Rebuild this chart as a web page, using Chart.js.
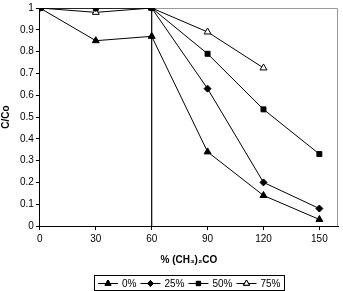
<!DOCTYPE html>
<html>
<head>
<meta charset="utf-8">
<script src="https://cdn.jsdelivr.net/npm/chart.js@4/dist/chart.umd.min.js"></script>
<style>
  html, body { margin: 0; padding: 0; background: #fff; }
  #wrap { width: 343px; height: 291px; }
</style>
</head>
<body>
<div id="wrap"><canvas id="chart" width="343" height="291"></canvas></div>
<script>
  // data
  const xValues = [0, 30, 60, 90, 120, 150];
  const xTicks = [0, 30, 60, 90, 120, 150];
  const s0 = [1, 0.85, 0.87, 0.34, 0.14, 0.03];
  const s25 = [1, 1, 1, 0.63, 0.20, 0.08];
  const s50 = [1, 1, 1, 0.79, 0.535, 0.33];
  const s75 = [1, 0.98, 1, 0.89, 0.725];
  const markerLine = [[60, 0], [60, 1]];

  const toPts = arr => arr.map((v, i) => ({ x: xValues[i], y: v }));

  const mk = (label, arr, style, fill, r) => ({
    label: label,
    data: toPts(arr),
    showLine: true,
    borderColor: '#000',
    borderWidth: 1,
    pointStyle: style,
    pointRadius: r,
    pointBackgroundColor: fill,
    pointBorderColor: '#000',
    pointBorderWidth: 1,
    inLegend: true
  });

  const datasets = [
    mk('0%', s0, 'triangle', '#000', 4),
    mk('25%', s25, 'rectRot', '#000', 3.5),
    mk('50%', s50, 'rect', '#000', 3.5),
    mk('75%', s75, 'triangle', '#fff', 4),
    {
      label: 'line',
      data: markerLine.map(p => ({ x: p[0], y: p[1] })),
      showLine: true,
      borderColor: '#000',
      borderWidth: 1.2,
      pointRadius: 0
    }
  ];

  // plot frame (top/right) and the boxed legend at the bottom
  const frame = {
    id: 'frame',
    beforeDatasetsDraw(chart) {
      const a = chart.chartArea, ctx = chart.ctx;
      ctx.save();
      ctx.strokeStyle = '#9a9a9a';
      ctx.lineWidth = 1;
      ctx.beginPath();
      ctx.moveTo(a.left, a.top + 0.5);
      ctx.lineTo(a.right - 0.5, a.top + 0.5);
      ctx.lineTo(a.right - 0.5, a.bottom);
      ctx.stroke();
      ctx.restore();
    },
    afterDraw(chart) {
      const ctx = chart.ctx, a = chart.chartArea;
      const items = chart.data.datasets.filter(d => d.inLegend);
      const sw = 20, gap = 4, pad = 4;
      ctx.save();
      ctx.font = '10px "Liberation Sans", Arial, sans-serif';
      const widths = items.map(d => sw + gap + ctx.measureText(d.label).width);
      const total = widths.reduce((s, w) => s + w, 0) + gap * (items.length - 1) + pad * 2;
      const cx = (a.left + a.right) / 2;
      const cy = 283;
      let x = Math.round(cx - total / 2);
      ctx.strokeStyle = '#000';
      ctx.lineWidth = 1;
      ctx.strokeRect(x + 0.5, cy - 7.5, Math.round(total), 15);
      x += pad;
      items.forEach((d, i) => {
        ctx.beginPath();
        ctx.moveTo(x, cy + 0.5); ctx.lineTo(x + sw, cy + 0.5);
        ctx.stroke();
        Chart.helpers.drawPoint(ctx, {
          pointStyle: d.pointStyle, radius: d.pointRadius - 0.5, borderWidth: 1
        }, x + sw / 2, cy + 0.5);
        ctx.fillStyle = d.pointBackgroundColor;
        ctx.fill();
        ctx.stroke();
        ctx.fillStyle = '#000';
        ctx.textBaseline = 'middle';
        ctx.textAlign = 'left';
        ctx.fillText(d.label, x + sw + gap, cy + 1);
        x += widths[i] + gap;
      });
      ctx.restore();
    }
  };

  Chart.defaults.font.family = '"Liberation Sans", "DejaVu Sans", Arial, sans-serif';
  Chart.defaults.color = '#000';

  new Chart(document.getElementById('chart'), {
    type: 'scatter',
    data: { datasets: datasets },
    plugins: [frame],
    options: {
      responsive: false,
      animation: false,
      layout: { padding: { top: 7, right: 5, left: 0, bottom: 25 } },
      plugins: {
        tooltip: { enabled: false },
        legend: { display: false }
      },
      scales: {
        x: {
          type: 'linear',
          min: 0,
          max: 160,
          afterBuildTicks: axis => { axis.ticks = xTicks.map(v => ({ value: v })); },
          ticks: { font: { size: 10 }, padding: 3, maxRotation: 0 },
          grid: { drawOnChartArea: false, drawTicks: true, tickLength: 4, color: '#000' },
          border: { display: true, color: '#000', width: 1 },
          title: { display: true, text: '% (CH₃)₂CO', font: { size: 10, weight: 'bold' }, padding: { top: 6, bottom: 0 } }
        },
        y: {
          min: 0,
          max: 1,
          ticks: {
            stepSize: 0.1,
            font: { size: 10 },
            padding: 2,
            callback: v => String(Math.round(v * 10) / 10)
          },
          grid: { drawOnChartArea: false, drawTicks: true, tickLength: 4, color: '#000' },
          border: { display: true, color: '#000', width: 1 },
          title: { display: true, text: 'C/Co', font: { size: 10, weight: 'bold' }, padding: { top: 0, bottom: 6 } }
        }
      }
    }
  });
</script>
</body>
</html>
